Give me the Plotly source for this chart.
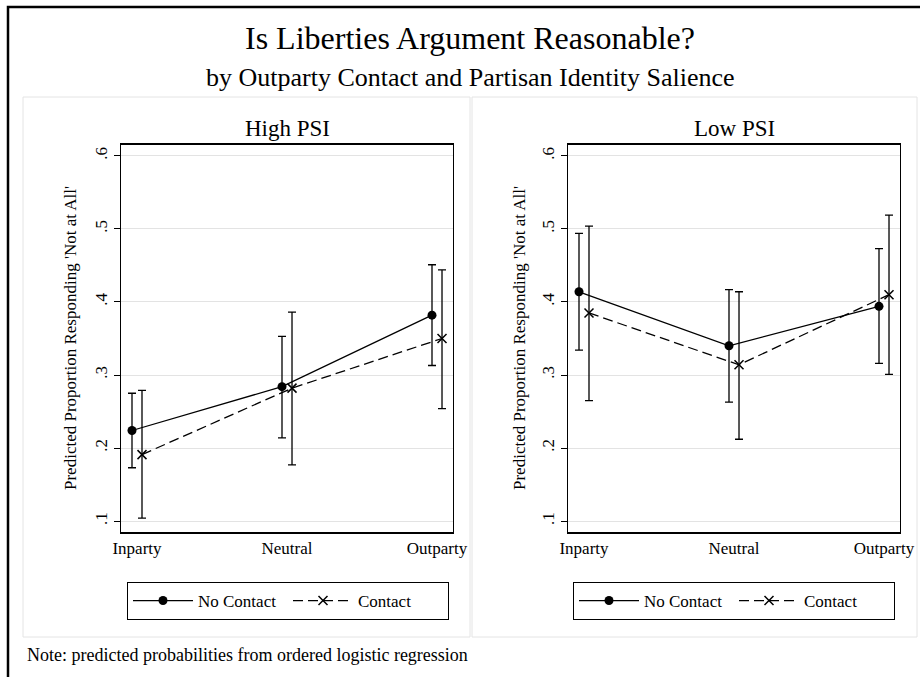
import plotly.graph_objects as go

W, H = 920, 677

# ---- data -------------------------------------------------------------
categories = ["Inparty", "Neutral", "Outparty"]
y_ticks = [0.1, 0.2, 0.3, 0.4, 0.5, 0.6]
y_tick_labels = [".1", ".2", ".3", ".4", ".5", ".6"]

# High PSI
high_nc = [0.224, 0.284, 0.382]
high_nc_lo = [0.173, 0.214, 0.313]
high_nc_hi = [0.275, 0.353, 0.451]
high_c = [0.191, 0.282, 0.350]
high_c_lo = [0.104, 0.177, 0.254]
high_c_hi = [0.279, 0.386, 0.444]

# Low PSI
low_nc = [0.414, 0.340, 0.394]
low_nc_lo = [0.334, 0.263, 0.316]
low_nc_hi = [0.494, 0.417, 0.473]
low_c = [0.385, 0.314, 0.410]
low_c_lo = [0.265, 0.212, 0.301]
low_c_hi = [0.504, 0.414, 0.519]

FONT = "Liberation Serif"
OFFSET = 0.0667  # horizontal dodge for the Contact series


def px(x):
    return x / W


def py(y):
    return 1 - y / H


fig = go.Figure()


def add_panel(xa, ya, legend, nc, nc_lo, nc_hi, c, c_lo, c_hi):
    pos = [i + 1 for i in range(len(categories))]
    fig.add_trace(go.Scatter(
        x=pos, y=nc, xaxis=xa, yaxis=ya, legend=legend,
        name="No Contact", mode="lines+markers",
        line=dict(color="black", width=1.3),
        marker=dict(symbol="circle", size=9, color="black"),
        error_y=dict(type="data", symmetric=False,
                     array=[h - v for h, v in zip(nc_hi, nc)],
                     arrayminus=[v - l for v, l in zip(nc, nc_lo)],
                     color="black", thickness=1.3, width=4),
    ))
    fig.add_trace(go.Scatter(
        x=[p + OFFSET for p in pos], y=c, xaxis=xa, yaxis=ya, legend=legend,
        name="Contact", mode="lines+markers",
        line=dict(color="black", width=1.3, dash="10px,5px"),
        marker=dict(symbol="x-thin", size=9, color="black",
                    line=dict(color="black", width=1.5)),
        error_y=dict(type="data", symmetric=False,
                     array=[h - v for h, v in zip(c_hi, c)],
                     arrayminus=[v - l for v, l in zip(c, c_lo)],
                     color="black", thickness=1.3, width=4),
    ))


add_panel("x", "y", "legend", high_nc, high_nc_lo, high_nc_hi,
          high_c, high_c_lo, high_c_hi)
add_panel("x2", "y2", "legend2", low_nc, low_nc_lo, low_nc_hi,
          low_c, low_c_lo, low_c_hi)

xaxis_common = dict(
    range=[1 - 11 / 150, 3 + 21 / 150],
    tickvals=[i + 1 + OFFSET / 2 for i in range(len(categories))],
    ticktext=categories,
    ticks="", showgrid=False, zeroline=False,
    showline=True, linecolor="black", linewidth=1.5, mirror=True,
    tickfont=dict(family=FONT, size=17, color="black"),
    automargin=False, fixedrange=True,
)
yaxis_common = dict(
    range=[0.085, 0.615],
    tickvals=y_ticks, ticktext=y_tick_labels, tickangle=-90,
    ticks="outside", ticklen=6, tickcolor="black", tickwidth=1,
    showgrid=True, gridcolor="#e3e3e3", gridwidth=1, zeroline=False,
    showline=True, linecolor="black", linewidth=1, mirror=True,
    tickfont=dict(family=FONT, size=17, color="black"),
    automargin=False, fixedrange=True, domain=[py(532), py(145)],
)

# legend box: 2 entries * (itemwidth + 10 + entrywidth) + gap = ~320 px
legend_common = dict(
    orientation="h", xanchor="left", yanchor="top",
    bordercolor="black", borderwidth=1, bgcolor="white",
    font=dict(family=FONT, size=17, color="black"),
    itemwidth=60, entrywidth=85, entrywidthmode="pixels",
    traceorder="normal",
)

ytitle = "Predicted Proportion Responding 'Not at All'"

annotations = [
    dict(text="Is Liberties Argument Reasonable?", x=px(470), y=py(38),
         font=dict(size=32)),
    dict(text="by Outparty Contact and Partisan Identity Salience",
         x=px(470), y=py(78), font=dict(size=26)),
    dict(text="High PSI", x=px(287), y=py(128), font=dict(size=23)),
    dict(text="Low PSI", x=px(734), y=py(128), font=dict(size=23)),
    dict(text=ytitle, x=px(70), y=py(338), textangle=-90, font=dict(size=17)),
    dict(text=ytitle, x=px(519), y=py(338), textangle=-90, font=dict(size=17)),
    dict(text="Note: predicted probabilities from ordered logistic regression",
         x=px(25), y=py(655), xanchor="left", font=dict(size=18)),
]
for a in annotations:
    a.setdefault("xanchor", "center")
    a.update(xref="paper", yref="paper", yanchor="middle", showarrow=False)
    a["font"].update(family=FONT, color="black")

shapes = [
    # outer frame (top and left edges visible)
    dict(type="rect", xref="paper", yref="paper",
         x0=px(8), x1=px(940), y0=py(700), y1=py(7),
         line=dict(color="black", width=2.5)),
    # panel backgrounds
    dict(type="rect", xref="paper", yref="paper",
         x0=px(23), x1=px(470), y0=py(637), y1=py(97),
         line=dict(color="#e4e4e4", width=1), layer="below"),
    dict(type="rect", xref="paper", yref="paper",
         x0=px(472), x1=px(917), y0=py(637), y1=py(97),
         line=dict(color="#e4e4e4", width=1), layer="below"),
]

fig.update_layout(
    width=W, height=H,
    margin=dict(l=0, r=0, t=0, b=0),
    paper_bgcolor="white", plot_bgcolor="white",
    font=dict(family=FONT, color="black"),
    xaxis=dict(domain=[px(121), px(453)], anchor="y", **xaxis_common),
    yaxis=dict(anchor="x", **yaxis_common),
    xaxis2=dict(domain=[px(568), px(900)], anchor="y2", **xaxis_common),
    yaxis2=dict(anchor="x2", **yaxis_common),
    legend=dict(x=px(127), y=py(582), **legend_common),
    legend2=dict(x=px(573), y=py(582), **legend_common),
    annotations=annotations,
    shapes=shapes,
    showlegend=True,
)

fig.write_html("out.html")
